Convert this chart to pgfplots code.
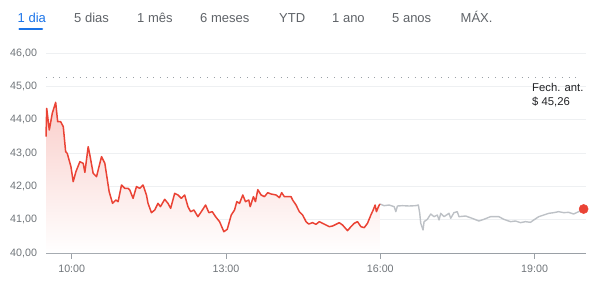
\documentclass[border=0pt]{standalone}
\usepackage{fontspec}
\setmainfont{Liberation Sans}
\usepackage{pgfplots}
\usepackage{pgfplotstable}
\pgfplotsset{compat=1.18}
\definecolor{gred}{HTML}{EA4335}
\definecolor{ggrey}{HTML}{BDC1C6}
\definecolor{gblue}{HTML}{1A73E8}
\definecolor{gtext}{HTML}{5F6368}
\definecolor{glabel}{HTML}{70757A}
\definecolor{gdark}{HTML}{202124}
\definecolor{ggrid}{HTML}{EEF0F2}
\definecolor{gaxis}{HTML}{9AA0A6}

\pgfplotstableread{
t v
9.500 43.49
9.514 44.34
9.564 43.69
9.622 44.19
9.688 44.52
9.727 43.94
9.785 43.94
9.836 43.79
9.882 43.04
9.913 42.99
9.985 42.59
10.029 42.14
10.082 42.44
10.159 42.74
10.223 42.69
10.256 42.42
10.320 43.19
10.353 42.94
10.417 42.39
10.483 42.29
10.514 42.49
10.580 42.89
10.644 42.69
10.728 41.84
10.794 41.49
10.858 41.59
10.902 41.54
10.968 42.04
11.032 41.94
11.096 41.94
11.129 41.89
11.193 41.64
11.259 41.99
11.323 41.94
11.387 42.04
11.453 41.74
11.484 41.49
11.550 41.21
11.614 41.29
11.678 41.49
11.725 41.39
11.808 41.61
11.872 41.49
11.924 41.34
12.002 41.79
12.066 41.74
12.132 41.64
12.196 41.74
12.260 41.39
12.312 41.24
12.376 41.29
12.454 41.09
12.520 41.24
12.603 41.44
12.667 41.21
12.733 41.24
12.797 41.09
12.875 40.94
12.958 40.64
13.024 40.71
13.102 41.14
13.166 41.29
13.210 41.54
13.263 41.49
13.327 41.74
13.379 41.54
13.443 41.59
13.470 41.39
13.534 41.69
13.573 41.54
13.618 41.90
13.683 41.74
13.747 41.69
13.812 41.81
13.877 41.77
13.975 41.74
14.038 41.66
14.083 41.81
14.135 41.69
14.265 41.69
14.296 41.59
14.362 41.44
14.426 41.24
14.490 41.14
14.556 40.94
14.607 40.87
14.684 40.91
14.750 40.86
14.814 40.94
14.878 40.89
14.944 40.84
15.008 40.79
15.072 40.81
15.138 40.86
15.202 40.91
15.266 40.84
15.363 40.67
15.429 40.79
15.493 40.89
15.557 40.94
15.623 40.79
15.687 40.76
15.751 40.89
15.817 41.14
15.862 41.29
15.900 41.44
15.925 41.24
15.964 41.39
15.992 41.47
}\reddata

\pgfplotstableread{
t v
15.992 41.47
16.075 41.42
16.172 41.44
16.269 41.39
16.302 41.24
16.333 41.41
16.430 41.42
16.560 41.41
16.690 41.42
16.740 41.44
16.767 41.19
16.787 40.89
16.831 40.69
16.851 40.94
16.915 41.01
16.981 41.17
17.045 41.09
17.109 41.14
17.142 40.99
17.175 41.19
17.239 41.09
17.336 41.19
17.369 41.04
17.432 41.21
17.497 41.24
17.530 41.09
17.659 41.11
17.787 41.04
17.917 40.96
18.014 41.01
18.144 41.09
18.305 41.09
18.402 41.01
18.532 40.94
18.629 40.96
18.726 40.91
18.823 40.94
18.920 40.92
18.984 40.99
19.081 41.09
19.178 41.14
19.275 41.19
19.372 41.21
19.469 41.24
19.566 41.21
19.663 41.22
19.760 41.17
19.857 41.24
19.954 41.32
}\greydata

\begin{document}
\begin{tikzpicture}
\path[use as bounding box] (0,0) rectangle (609bp,285bp);
% range tabs
\begin{scope}[every node/.style={anchor=base west, inner sep=0pt, font=\fontsize{13bp}{15bp}\selectfont, text=gtext}]
\node[text=gblue] at (17.5bp,262bp) {1 dia};
\node at (74bp,262bp) {5 dias};
\node at (137bp,262bp) {1 mês};
\node at (200bp,262bp) {6 meses};
\node at (279bp,262bp) {YTD};
\node at (332bp,262bp) {1 ano};
\node at (392bp,262bp) {5 anos};
\node at (460.5bp,262bp) {MÁX.};
\end{scope}
\draw[gblue, line width=2.5bp, line cap=round] (19.5bp,256bp) -- (42bp,256bp);

\begin{axis}[
  at={(46bp,32bp)}, anchor=south west,
  scale only axis, width=540bp, height=200bp,
  xmin=9.5, xmax=20, ymin=40, ymax=46,
  axis x line=bottom, axis y line=left,
  x axis line style={gaxis, line width=0.8bp, -},
  y axis line style={draw=none},
  xtick={10,13,16,19},
  xticklabels={10:00,13:00,16:00,19:00},
  ytick={40,41,42,43,44,45,46},
  ymajorgrids,
  grid style={ggrid, line width=0.8bp},
  tick align=outside,
  major tick length=5.5bp,
  xtick style={gaxis, line width=0.9bp},
  ytick style={draw=none},
  tick label style={font=\fontsize{10.7bp}{12bp}\selectfont, text=glabel},
  xticklabel style={yshift=-3.5bp},
  yticklabel style={/pgf/number format/.cd, fixed, fixed zerofill, precision=2, use comma, assume math mode=true},
  clip=false,
]
\addplot[draw=none, top color=gred!26, bottom color=white, forget plot] table[x=t, y=v] {\reddata} \closedcycle;
\addplot[gaxis, line width=1bp, dash pattern=on 1bp off 5.7bp] coordinates {(9.5,45.26) (19.9,45.26)};
\addplot[ggrey, line width=1.4bp, line join=round] table[x=t, y=v] {\greydata};
\addplot[gred, line width=1.5bp, line join=round] table[x=t, y=v] {\reddata};
\addplot[only marks, mark=*, mark size=4.6bp, gred] coordinates {(19.954,41.32)};
\end{axis}

\node[anchor=base west, inner sep=0pt, font=\fontsize{11.3bp}{13bp}\selectfont, text=gdark] at (532bp,193bp) {Fech. ant.};
\node[anchor=base west, inner sep=0pt, font=\fontsize{11.3bp}{13bp}\selectfont, text=gdark] at (532bp,179bp) {\$ 45,26};
\end{tikzpicture}
\end{document}
